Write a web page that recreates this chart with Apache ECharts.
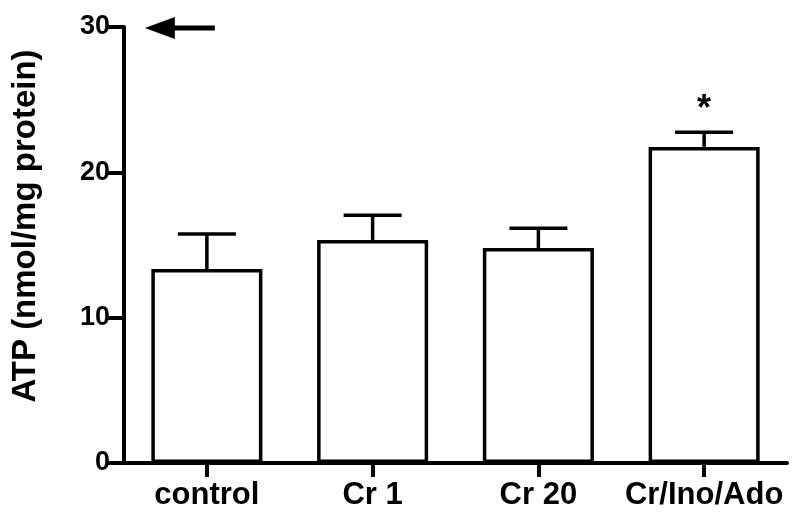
<!DOCTYPE html>
<html>
<head>
<meta charset="utf-8">
<script src="https://cdn.jsdelivr.net/npm/echarts@6/dist/echarts.min.js"></script>
<style>
    html, body { margin: 0; padding: 0; background: #fff; }
    #chart { width: 800px; height: 531px; }
</style>
</head>
<body>
<div id="chart"></div>
<script>
// ATP content per treatment group (mean and upper SEM)
var categories = ['control', 'Cr 1', 'Cr 20', 'Cr/Ino/Ado'];
var means = [13.35, 15.35, 14.8, 21.75];
var errTop = [15.75, 17.05, 16.15, 22.75];
var marks = ['', '', '', '*'];
var yTicks = [0, 10, 20, 30];

var FONT = '"Liberation Sans", Arial, sans-serif';

var chart = echarts.init(document.getElementById('chart'));

var errData = categories.map(function (c, i) {
    return [i, means[i], errTop[i], marks[i]];
});

var option = {
    animation: false,
    grid: { left: 124, right: 13, top: 27, bottom: 68 },
    xAxis: {
        type: 'category',
        data: categories,
        axisLine: { lineStyle: { color: '#000', width: 4 } },
        axisTick: { show: true, alignWithLabel: true, length: 14, lineStyle: { color: '#000', width: 4 } },
        axisLabel: { interval: 0, color: '#000', fontWeight: 'bold', fontSize: 31, fontFamily: FONT, margin: 17 }
    },
    yAxis: {
        type: 'value',
        min: yTicks[0],
        max: yTicks[yTicks.length - 1],
        interval: 10,
        name: 'ATP (nmol/mg protein)',
        nameLocation: 'middle',
        nameGap: 82,
        nameTextStyle: { color: '#000', fontWeight: 'bold', fontSize: 33, fontFamily: FONT, padding: [0, 0, 0, 38] },
        axisLine: { show: true, lineStyle: { color: '#000', width: 4 } },
        axisTick: { show: true, length: 16, lineStyle: { color: '#000', width: 4 } },
        axisLabel: { color: '#000', fontWeight: 'bold', fontSize: 27, fontFamily: FONT, margin: 14 },
        splitLine: { show: false }
    },
    series: [
        {
            type: 'bar',
            data: means,
            barWidth: '67%',
            itemStyle: { color: '#fff', borderColor: '#000', borderWidth: 3.5 },
            z: 2
        },
        {
            type: 'custom',
            data: errData,
            z: 3,
            renderItem: function (params, api) {
                var base = api.coord([api.value(0), api.value(1)]);
                var top = api.coord([api.value(0), api.value(2)]);
                var half = 29;
                var style = { stroke: '#000', lineWidth: 3.5 };
                var children = [
                    { type: 'line', shape: { x1: base[0], y1: base[1], x2: top[0], y2: top[1] }, style: style },
                    { type: 'line', shape: { x1: top[0] - half, y1: top[1], x2: top[0] + half, y2: top[1] }, style: style }
                ];
                var m = api.value(3);
                if (m) {
                    children.push({
                        type: 'text',
                        style: {
                            text: m, x: top[0], y: top[1] - 4,
                            fill: '#000', font: 'bold 36px ' + FONT,
                            align: 'center', verticalAlign: 'bottom'
                        }
                    });
                }
                return { type: 'group', children: children };
            }
        }
    ]
};

chart.setOption(option);

// arrow pointing at the y = 30 level
var ay = chart.convertToPixel({ yAxisIndex: 0 }, yTicks[yTicks.length - 1]) + 1;
var ax = chart.convertToPixel({ xAxisIndex: 0 }, categories[0]) - 62;
chart.setOption({
    graphic: [
        { type: 'line', shape: { x1: ax + 20, y1: ay, x2: ax + 70, y2: ay }, style: { stroke: '#000', lineWidth: 5 } },
        { type: 'polygon', shape: { points: [[ax, ay], [ax + 30, ay - 11], [ax + 30, ay + 11]] }, style: { fill: '#000' } }
    ]
});
</script>
</body>
</html>
